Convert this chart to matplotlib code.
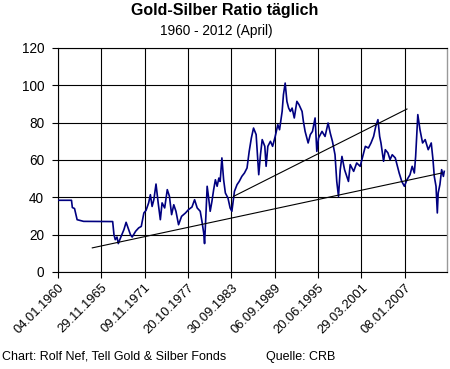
import matplotlib
matplotlib.use("Agg")
import matplotlib.pyplot as plt

plt.rcParams['font.family'] = ['Liberation Sans', 'DejaVu Sans']

# x positions are in units of the date-tick spacing (Excel category axis)
date_labels = ['04.01.1960', '29.11.1965', '09.11.1971', '20.10.1977', '30.09.1983',
               '06.09.1989', '20.06.1995', '29.03.2001', '08.01.2007']

pos = [0.00, 0.31, 0.33, 0.38, 0.44, 0.59, 1.26, 1.29, 1.32, 1.36, 1.39, 1.44, 1.52, 1.57,
       1.63, 1.67, 1.71, 1.79, 1.86, 1.92, 1.98, 2.03, 2.09, 2.13, 2.17, 2.21, 2.26, 2.31,
       2.36, 2.40, 2.46, 2.52, 2.57, 2.62, 2.67, 2.72, 2.78, 2.85, 2.94, 3.01, 3.09, 3.15,
       3.21, 3.28, 3.32, 3.36, 3.38, 3.41, 3.44, 3.47, 3.51, 3.55, 3.59, 3.63, 3.67, 3.71,
       3.74, 3.78, 3.82, 3.86, 3.92, 3.97, 4.01, 4.07, 4.13, 4.18, 4.24, 4.30, 4.36, 4.41,
       4.46, 4.51, 4.57, 4.60, 4.63, 4.67, 4.71, 4.77, 4.80, 4.84, 4.90, 4.95, 5.01, 5.07,
       5.11, 5.17, 5.20, 5.24, 5.28, 5.32, 5.36, 5.40, 5.45, 5.51, 5.56, 5.63, 5.66, 5.70,
       5.77, 5.82, 5.87, 5.93, 5.97, 6.01, 6.09, 6.16, 6.23, 6.28, 6.33, 6.39, 6.43, 6.47,
       6.51, 6.55, 6.61, 6.66, 6.70, 6.74, 6.82, 6.89, 6.97, 7.02, 7.09, 7.16, 7.22, 7.28,
       7.33, 7.38, 7.42, 7.45, 7.51, 7.55, 7.61, 7.66, 7.71, 7.78, 7.82, 7.87, 7.93, 7.99,
       8.05, 8.12, 8.17, 8.22, 8.25, 8.30, 8.35, 8.41, 8.47, 8.54, 8.61, 8.65, 8.68, 8.72,
       8.75, 8.77, 8.81, 8.85, 8.89, 8.91]
ratio = [38.4, 38.4, 34.5, 34.0, 28.0, 27.1, 27.0, 20.0, 17.3, 18.7, 15.2, 18.2, 22.7, 26.6,
         22.7, 20.0, 18.7, 21.8, 23.6, 24.4, 31.6, 33.0, 37.0, 41.4, 35.1, 38.7, 47.1, 37.0,
         28.0, 37.0, 34.3, 44.1, 40.5, 30.7, 36.0, 32.5, 25.3, 29.8, 31.6, 33.4, 34.8, 38.7,
         34.3, 32.5, 27.1, 20.9, 15.2, 29.8, 45.9, 40.5, 32.5, 37.8, 44.1, 49.4, 45.9, 50.3,
         48.5, 61.1, 49.4, 42.3, 39.6, 34.3, 32.5, 43.2, 46.8, 48.5, 51.2, 53.0, 55.7, 64.6,
         71.8, 77.1, 73.6, 62.8, 52.1, 62.8, 70.9, 67.3, 56.6, 67.3, 70.0, 67.3, 72.6, 78.9,
         76.2, 86.0, 95.0, 101.2, 91.4, 87.8, 86.0, 87.8, 82.5, 91.4, 89.6, 86.0, 80.7, 75.3,
         69.1, 73.6, 75.3, 82.5, 64.6, 71.8, 75.3, 72.6, 79.8, 74.4, 70.0, 62.8, 48.5, 40.5,
         54.8, 61.9, 54.8, 51.2, 48.5, 57.5, 53.9, 58.4, 56.6, 61.1, 67.3, 66.4, 69.1, 72.6,
         78.0, 81.6, 72.6, 69.1, 59.3, 65.5, 63.8, 60.2, 62.8, 61.1, 57.5, 53.0, 48.5, 45.9,
         49.4, 52.1, 56.6, 53.0, 61.9, 84.3, 76.2, 69.1, 70.9, 65.5, 69.1, 60.2, 51.2, 45.9,
         31.6, 42.3, 46.8, 54.8, 51.2, 53.9]

# hand-drawn trend lines (start, end)
trend_low_x = [0.79, 8.85]
trend_low_y = [12.9, 53.0]
trend_high_x = [4.05, 8.05]
trend_high_y = [40.5, 87.3]

fig = plt.figure(figsize=(4.5, 3.69), dpi=100)
ax = fig.add_axes([0.129, 0.263, 0.864, 0.607])

ax.plot(pos, ratio, color='#000080', linewidth=1.2, zorder=3)
ax.plot(trend_low_x, trend_low_y, color='black', linewidth=0.8, zorder=4)
ax.plot(trend_high_x, trend_high_y, color='black', linewidth=0.8, zorder=4)

ax.set_xlim(0, 8.97)
ax.set_ylim(0, 120)
ax.set_yticks(range(0, 121, 20))
ax.set_xticks(range(len(date_labels)))
ax.set_xticklabels(date_labels, rotation=45, ha='right', rotation_mode='anchor')
ax.tick_params(axis='both', length=4, width=0.8, color='black')
ax.tick_params(axis='x', labelsize=9.3, pad=3)
ax.tick_params(axis='y', labelsize=9.8, pad=6)
ax.grid(True, color='black', linewidth=0.8)
ax.set_axisbelow(True)

for side in ['left', 'bottom', 'top']:
    ax.spines[side].set_color('black')
    ax.spines[side].set_linewidth(0.8)
ax.spines['right'].set_color('#999999')
ax.spines['right'].set_linewidth(1.0)

fig.text(0.50, 0.972, 'Gold-Silber Ratio täglich', ha='center', va='center',
         fontsize=11.5, fontweight='bold')
fig.text(0.48, 0.917, '1960 - 2012 (April)', ha='center', va='center', fontsize=9.8)
fig.text(0.004, 0.033, 'Chart: Rolf Nef, Tell Gold & Silber Fonds', ha='left', va='center',
         fontsize=9)
fig.text(0.59, 0.033, 'Quelle: CRB', ha='left', va='center', fontsize=9)

fig.savefig('out.png', dpi=100)
